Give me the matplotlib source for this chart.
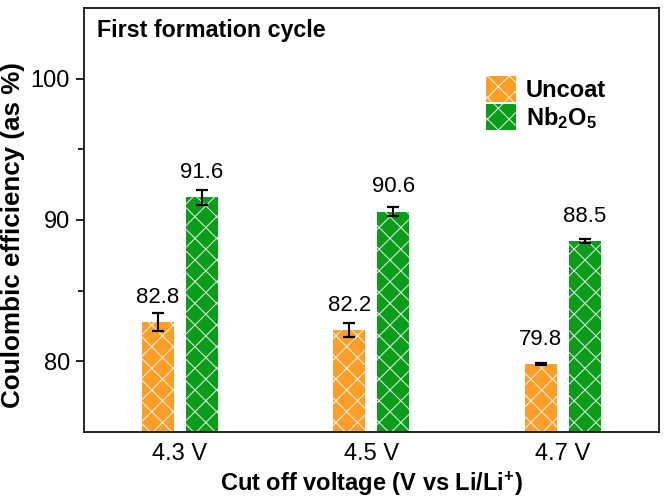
import numpy as np
import matplotlib
matplotlib.use("Agg")
import matplotlib.pyplot as plt
from matplotlib.patches import Patch

# figure drawn at 130 dpi so the "xx" hatch gets the finer diamond spacing;
# every size below is written for 100 dpi and scaled by k
DPI = 130
k = 100 / DPI

plt.rcParams["font.family"] = ["Liberation Sans", "DejaVu Sans"]
plt.rcParams["mathtext.fontset"] = "custom"
plt.rcParams["mathtext.rm"] = "Liberation Sans:bold"
plt.rcParams["mathtext.bf"] = "Liberation Sans:bold"
plt.rcParams["mathtext.default"] = "bf"
plt.rcParams["hatch.linewidth"] = 0.75 * k

voltages = ["4.3 V", "4.5 V", "4.7 V"]
uncoat = [82.8, 82.2, 79.8]
uncoat_err = [0.62, 0.5, 0.05]
nb2o5 = [91.6, 90.6, 88.5]
nb2o5_err = [0.55, 0.35, 0.12]

orange = "#ff9e27"
green = "#0b9c1a"
hatch_col = (1, 1, 1, 0.85)

fig = plt.figure(figsize=(666 / DPI, 498 / DPI), dpi=DPI)
ax = fig.add_axes([0.126, 0.1325, 0.863, 0.8515])

x = np.arange(len(voltages))
w = 0.167
off = 0.115
ekw = dict(elinewidth=1.5 * k, capthick=1.6 * k, ecolor="black")
ax.bar(x - off, uncoat, w, color=orange, edgecolor=hatch_col, linewidth=0,
       hatch="xx", yerr=uncoat_err, capsize=4.3 * k, error_kw=ekw)
ax.bar(x + off, nb2o5, w, color=green, edgecolor=hatch_col, linewidth=0,
       hatch="xx", yerr=nb2o5_err, capsize=4.3 * k, error_kw=ekw)

for xi, v in zip(x - off, uncoat):
    ax.text(xi, v + 1.75, f"{v:.1f}", ha="center", va="center", fontsize=16 * k)
for xi, v in zip(x + off, nb2o5):
    ax.text(xi, v + 1.75, f"{v:.1f}", ha="center", va="center", fontsize=16 * k)

ax.set_xlim(-0.5, 2.5)
ax.set_ylim(75, 105)
ax.set_yticks([80, 90, 100])
ax.set_yticks([85, 95], minor=True)
ax.set_xticks(x)
ax.set_xticklabels(voltages)
ax.tick_params(axis="y", which="major", length=6 * k, width=1.2 * k,
               labelsize=17 * k, direction="out", pad=4 * k)
ax.tick_params(axis="y", which="minor", length=4 * k, width=1.2 * k, direction="out")
ax.tick_params(axis="x", length=0, labelsize=17 * k, pad=8 * k)
for s in ax.spines.values():
    s.set_linewidth(1.2 * k)

ax.set_ylabel("Coulombic efficiency (as %)", fontsize=18.7 * k, fontweight="bold")
ax.yaxis.set_label_coords(-0.103, 0.465)
ax.set_xlabel("Cut off voltage (V vs Li/Li$^{+}$)", fontsize=17 * k,
              fontweight="bold", labelpad=3 * k)

ax.text(0.023, 0.948, "First formation cycle", transform=ax.transAxes,
        fontsize=16.7 * k, fontweight="bold", va="center", ha="left")

handles = [Patch(facecolor=orange, edgecolor=hatch_col, linewidth=0, hatch="xx"),
           Patch(facecolor=green, edgecolor=hatch_col, linewidth=0, hatch="xx")]
ax.legend(handles, ["Uncoat", "Nb$_2$O$_5$"], loc="upper left",
          bbox_to_anchor=(0.70, 0.84), frameon=False, borderpad=0,
          borderaxespad=0, prop=dict(size=17 * k, weight="bold"),
          handlelength=1.27, handleheight=1.3, handletextpad=0.4,
          labelspacing=0.12)

fig.savefig("out.png", dpi=DPI)
